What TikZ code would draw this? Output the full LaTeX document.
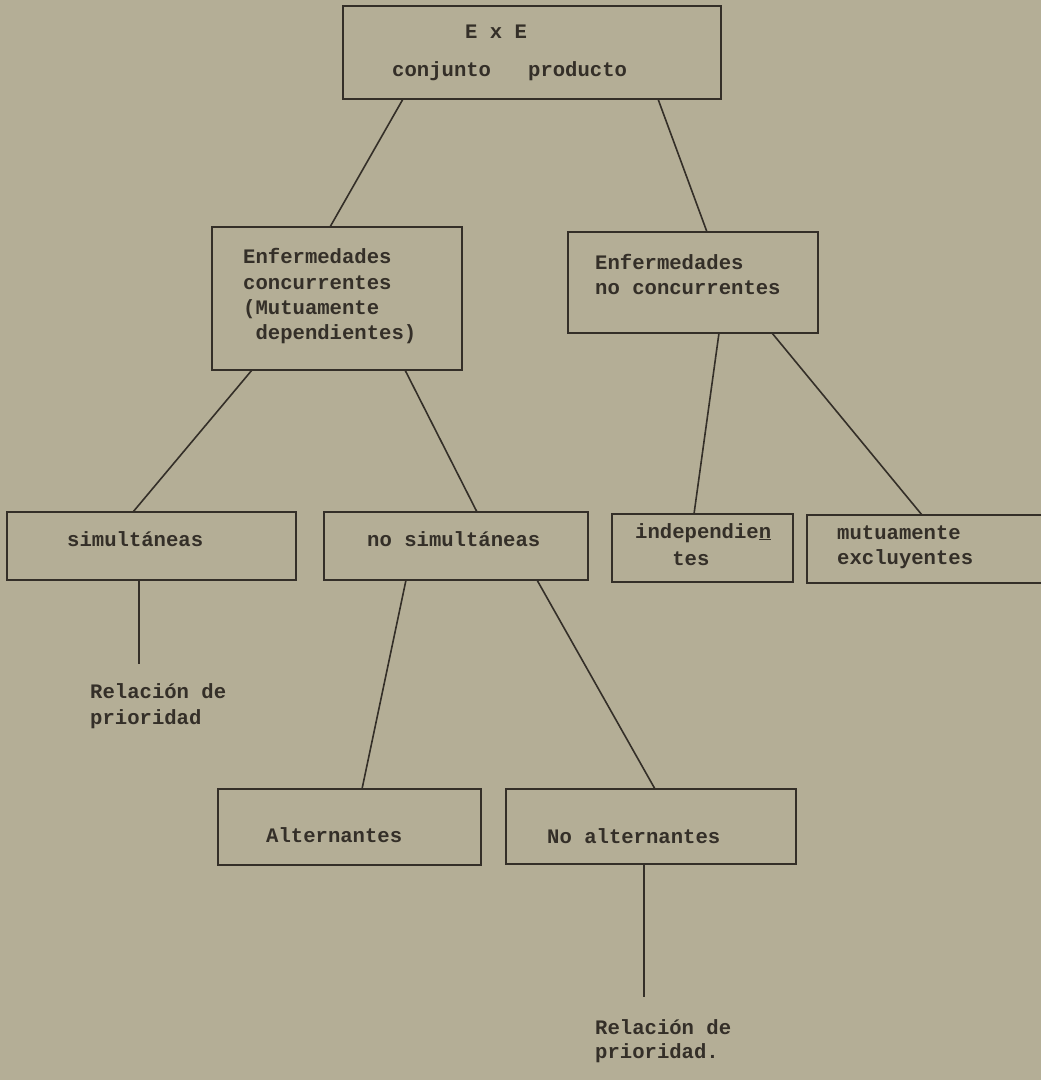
\documentclass[tikz,border=0pt]{standalone}
\usepackage{fontspec}
\setmonofont{Liberation Mono}
\definecolor{paper}{RGB}{180,174,150}
\definecolor{ink}{RGB}{52,47,40}
\begin{document}
\begin{tikzpicture}[x=1pt,y=-1pt,
  box/.style={draw=ink,line width=2.4pt,rectangle,inner sep=0pt,outer sep=0pt},
  conn/.style={draw=ink,line width=1.6pt},
  lbl/.style={text=ink,inner sep=0pt,anchor=base west,font=\ttfamily\bfseries\fontsize{20.6}{25}\selectfont}]
\useasboundingbox (0,0) rectangle (1041,1080);
\fill[paper] (0,0) rectangle (1041,1080);
\clip (0,0) rectangle (1041,1080);
% boxes
\node[box,minimum width=378pt,minimum height=93pt] (top) at (532,52.5) {};
\node[box,minimum width=250pt,minimum height=143pt] (conc) at (337,298.5) {};
\node[box,minimum width=250pt,minimum height=101pt] (noconc) at (693,282.5) {};
\node[box,minimum width=289pt,minimum height=68pt] (sim) at (151.5,546) {};
\node[box,minimum width=264pt,minimum height=68pt] (nosim) at (456,546) {};
\node[box,minimum width=181pt,minimum height=68pt] (indep) at (702.5,548) {};
\node[box,minimum width=243pt,minimum height=68pt] (mutua) at (928.5,549) {};
\node[box,minimum width=263pt,minimum height=76pt] (alt) at (349.5,827) {};
\node[box,minimum width=290pt,minimum height=75pt] (noalt) at (651,826.5) {};
% texts
\node[lbl] (t1) at (465,38) {E x E};
\node[lbl] (t2) at (392,76) {conjunto\ \ \ producto};
\node[lbl] (c1) at (243,263) {Enfermedades};
\node[lbl] (c2) at (243,289) {concurrentes};
\node[lbl] (c3) at (243,314) {(Mutuamente};
\node[lbl] (c4) at (243,339) {\ dependientes)};
\node[lbl] (n1) at (595,269) {Enfermedades};
\node[lbl] (n2) at (595,294) {no concurrentes};
\node[lbl] (s1) at (67,546) {simultáneas};
\node[lbl] (ns1) at (367,546) {no simultáneas};
\node[lbl] (i1) at (635,538) {independie\underline{n}};
\node[lbl] (i2) at (635,565) {\ \ \ tes};
\node[lbl] (m1) at (837,539) {mutuamente};
\node[lbl] (m2) at (837,564) {excluyentes};
\node[lbl] (r1a) at (90,698) {Relación de};
\node[lbl] (r1b) at (90,724) {prioridad};
\node[lbl] (a1) at (266,842) {Alternantes};
\node[lbl] (na1) at (547,843) {No alternantes};
\node[lbl] (r2a) at (595,1034) {Relación de};
\node[lbl] (r2b) at (595,1058) {prioridad.};
% free ends
\coordinate (e1) at (139,664);
\coordinate (e2) at (644,997);
% connectors
\draw[conn] ([xshift=60pt]top.south west) -- ([xshift=118pt]conc.north west);
\draw[conn] ([xshift=315pt]top.south west) -- ([xshift=139pt]noconc.north west);
\draw[conn] ([xshift=40pt]conc.south west) -- ([xshift=126pt]sim.north west);
\draw[conn] ([xshift=193pt]conc.south west) -- ([xshift=153pt]nosim.north west);
\draw[conn] ([xshift=151pt]noconc.south west) -- ([xshift=82pt]indep.north west);
\draw[conn] ([xshift=204pt]noconc.south west) -- ([xshift=115pt]mutua.north west);
\draw[conn] ([xshift=132pt]sim.south west) -- (e1);
\draw[conn] ([xshift=82pt]nosim.south west) -- ([xshift=144pt]alt.north west);
\draw[conn] ([xshift=213pt]nosim.south west) -- ([xshift=149pt]noalt.north west);
\draw[conn] ([xshift=138pt]noalt.south west) -- (e2);
\end{tikzpicture}
\end{document}
